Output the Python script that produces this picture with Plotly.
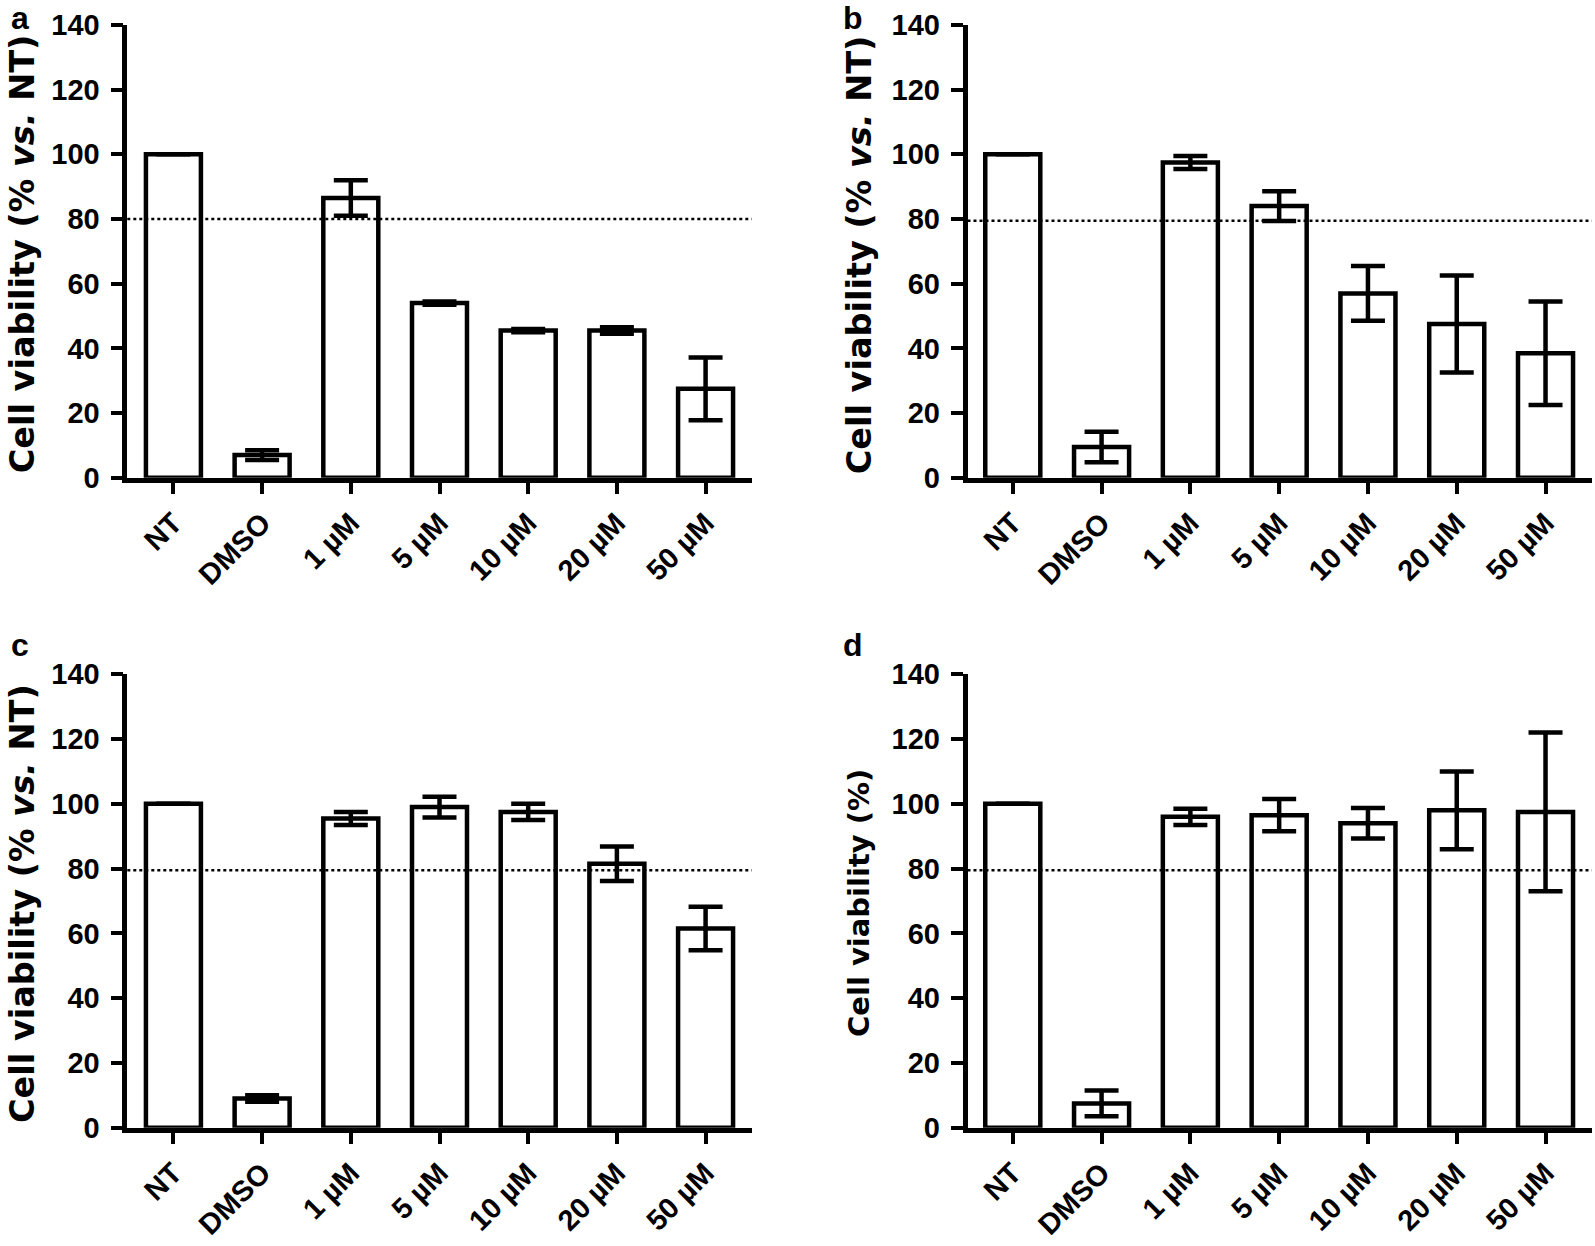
import plotly.graph_objects as go

# ---------------- data ----------------
categories = ["NT", "DMSO", "1 µM", "5 µM", "10 µM", "20 µM", "50 µM"]

a_mean = [100, 7.0, 86.5, 54.0, 45.5, 45.5, 27.5]
a_err = [0, 1.5, 5.5, 0.5, 0.5, 1.0, 9.7]

b_mean = [100, 9.5, 97.5, 84.0, 57.0, 47.5, 38.5]
b_err = [0, 4.7, 2.0, 4.6, 8.5, 15.0, 16.0]

c_mean = [100, 9.0, 95.5, 99.0, 97.5, 81.5, 61.5]
c_err = [0, 1.0, 2.0, 3.2, 2.5, 5.3, 6.7]

d_mean = [100, 7.5, 96.0, 96.5, 94.0, 98.0, 97.5]
d_err = [0, 4.0, 2.5, 5.0, 4.7, 12.0, 24.5]

threshold = [80, 79.5, 79.5, 79.5]
y_ticks = [0, 20, 40, 60, 80, 100, 120, 140]
panel_letters = ["a", "b", "c", "d"]
y_titles = ["Cell viability (% <i>vs.</i> NT)", "Cell viability (% <i>vs.</i> NT)",
            "Cell viability (% <i>vs.</i> NT)", "Cell viability (%)"]

# ---------------- layout geometry (pixels) ----------------
W, H = 1595, 1246
panels_px = [
    (127.3, 751.7, 25.0, 477.7),     # a
    (967.5, 1591.7, 25.0, 477.7),    # b
    (127.3, 751.7, 674.3, 1127.7),   # c
    (967.5, 1591.7, 674.3, 1127.7),  # d
]
x_ranges = [[-0.52, 6.52], [-0.51, 6.52], [-0.52, 6.52], [-0.51, 6.52]]
letter_pos = [(20, 18), (853, 18), (20, 645), (853, 645)]
title_x = [22, 859, 22, 859]
title_dy = [3, 3, 3, 2]
title_size = [33.5, 33.5, 33.5, 29]

TICK_FONT = dict(family="Liberation Sans, Arial", size=29, color="black", weight="bold")
XTICK_FONT = dict(family="Liberation Sans, Arial", size=29, color="black", weight="bold")

means = [a_mean, b_mean, c_mean, d_mean]
errs = [a_err, b_err, c_err, d_err]

fig = go.Figure()
layout = dict(
    width=W, height=H, autosize=False,
    margin=dict(l=0, r=0, t=0, b=0, pad=0, autoexpand=False),
    paper_bgcolor="white", plot_bgcolor="white",
    showlegend=False,
)
shapes = []
annotations = []

for i in range(4):
    sfx = "" if i == 0 else str(i + 1)
    x0, x1, y0, y1 = panels_px[i]
    fig.add_trace(go.Bar(
        x=categories, y=means[i], width=0.62,
        marker=dict(color="white", line=dict(color="black", width=4.5)),
        error_y=dict(type="data", array=errs[i], symmetric=True,
                     color="black", thickness=4.5, width=17),
        xaxis="x" + sfx, yaxis="y" + sfx,
    ))
    layout["xaxis" + sfx] = dict(
        domain=[x0 / W, x1 / W], anchor="y" + sfx,
        range=x_ranges[i], type="category", automargin=False,
        showline=True, linecolor="black", linewidth=4.5,
        ticks="outside", ticklen=12, tickwidth=3.5, tickcolor="black",
        tickangle=-45, tickfont=XTICK_FONT, ticklabelstandoff=0,
        showgrid=False, zeroline=False, fixedrange=True,
    )
    layout["yaxis" + sfx] = dict(
        domain=[1 - y1 / H, 1 - y0 / H], anchor="x" + sfx,
        range=[0, 140], tickvals=y_ticks, automargin=False,
        showline=True, linecolor="black", linewidth=4.5,
        ticks="outside", ticklen=12, tickwidth=3.5, tickcolor="black",
        tickfont=TICK_FONT, ticklabelstandoff=5,
        showgrid=False, zeroline=False, fixedrange=True,
    )
    shapes.append(dict(
        type="line", xref="x" + sfx + " domain", yref="y" + sfx,
        x0=0, x1=1, y0=threshold[i], y1=threshold[i],
        line=dict(color="black", width=2.5, dash="3px,3px"), layer="above",
    ))
    lx, ly = letter_pos[i]
    annotations.append(dict(
        text="<b>%s</b>" % panel_letters[i], xref="paper", yref="paper",
        x=lx / W, y=1 - ly / H, xanchor="center", yanchor="middle",
        showarrow=False, font=dict(family="Liberation Sans, Arial", size=32, color="black"),
    ))
    annotations.append(dict(
        text="<b>%s</b>" % y_titles[i], xref="paper", yref="paper",
        x=title_x[i] / W, y=1 - ((y0 + y1) / 2 + title_dy[i]) / H,
        xanchor="center", yanchor="middle", textangle=-90,
        showarrow=False, borderpad=0,
        font=dict(family="DejaVu Sans, Open Sans, Arial", size=title_size[i], color="black"),
    ))

layout["shapes"] = shapes
layout["annotations"] = annotations
fig.update_layout(**layout)
fig.write_html(
    "out.html",
    config={"displayModeBar": False},
    post_script="document.body.style.margin='0px';document.body.style.overflow='hidden';",
)
